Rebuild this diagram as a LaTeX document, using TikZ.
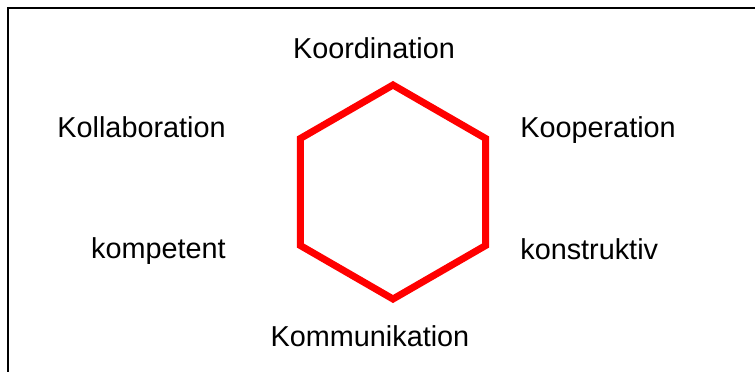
\documentclass[tikz,border=0pt]{standalone}
\usepackage{fontspec}
\setmainfont{Liberation Sans}
\usepackage{tikz}

\begin{document}
\begin{tikzpicture}[x=0.02cm,y=-0.02cm,
    lbl/.style={inner sep=0pt,font=\fontsize{16.4}{19}\selectfont},
    hexline/.style={draw=red,line width=0.14cm},
    frame/.style={draw=black,line width=0.045cm}]
      \useasboundingbox (0,0) rectangle (755,372);
      % frame, cut off at right and bottom
      \draw[frame] (7.8,372) -- (7.8,7.8) -- (755,7.8);
      % hexagon, centre (393,192), radius 107
      \draw[hexline] (393,192) +(90:107) -- +(150:107) -- +(210:107) -- +(270:107) -- +(330:107) -- +(30:107) -- cycle;
      \node[lbl,anchor=base] (koord) at (374,58) {Koordination};
      \node[lbl,anchor=base west] (koop) at (520,137) {Kooperation};
      \node[lbl,anchor=base west] (konstr) at (520,259) {konstruktiv};
      \node[lbl,anchor=base] (komm) at (370,346) {Kommunikation};
      \node[lbl,anchor=base east] (kompet) at (226,258) {kompetent};
      \node[lbl,anchor=base east] (kollab) at (226,137) {Kollaboration};
    \end{tikzpicture}
\end{document}
